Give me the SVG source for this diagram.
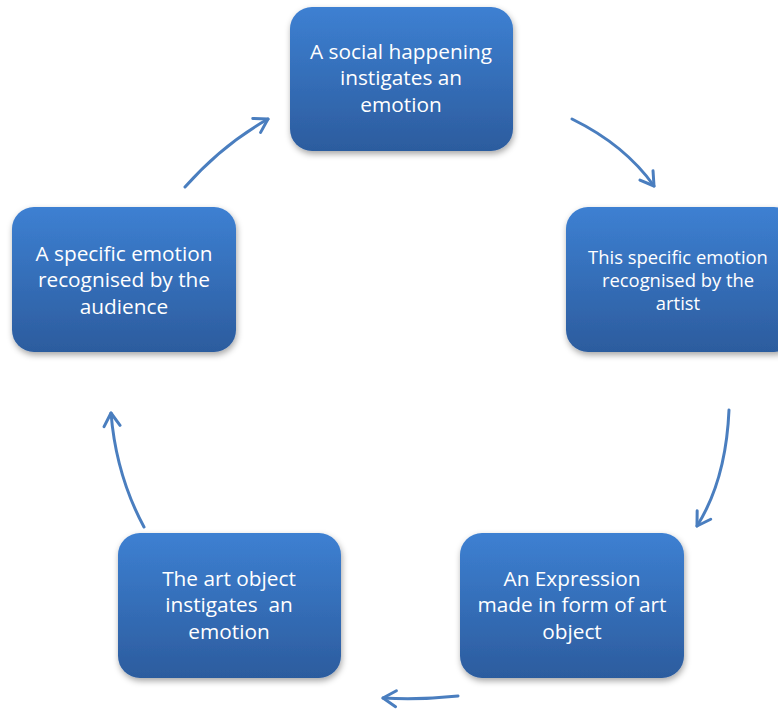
<svg xmlns="http://www.w3.org/2000/svg" width="778" height="711" viewBox="0 0 778 711">
<defs>
<linearGradient id="g" x1="0" y1="0" x2="0" y2="1">
<stop offset="0" stop-color="#3d80d2"/>
<stop offset="1" stop-color="#2c5c9e"/>
</linearGradient>
<filter id="sh" x="-10%" y="-10%" width="125%" height="130%">
<feDropShadow dx="1" dy="3" stdDeviation="3" flood-color="#000" flood-opacity="0.35"/>
</filter>
<marker id="ah" viewBox="0 0 20 20" refX="16" refY="10" markerWidth="20" markerHeight="20" markerUnits="userSpaceOnUse" orient="auto">
<path d="M3,2 L16,10 L3,18" fill="none" stroke="#4a7ebf" stroke-width="3" stroke-linecap="round" stroke-linejoin="round"/>
</marker>
</defs>
<style>
.n{fill:url(#g);filter:url(#sh)}
.t{fill:#fff;font-family:"Open Sans","Noto Sans",sans-serif;font-size:20.8px;text-anchor:middle}
.ts{font-size:18.4px}
.c{fill:none;stroke:#4a7ebf;stroke-width:3;stroke-linecap:round;marker-end:url(#ah)}
</style>
<rect width="778" height="711" fill="#fff"/>
<g id="connectors">
<path class="c" d="M572,119 Q625,145 654,186"/>
<path class="c" d="M729,410 Q726,480 697,526"/>
<path class="c" d="M458,696 Q420,700 383,698"/>
<path class="c" d="M144,527 Q116,475 111,413"/>
<path class="c" d="M185,187 Q222,145 268,119"/>
</g>
<g id="n1">
<rect class="n" x="290" y="7" width="223" height="144" rx="22"/>
<text class="t" x="401" y="59">A social happening</text>
<text class="t" x="401" y="85">instigates an</text>
<text class="t" x="401" y="112">emotion</text>
</g>
<g id="n2">
<rect class="n" x="566" y="207" width="230" height="145" rx="22"/>
<text class="t ts" x="678" y="264">This specific emotion</text>
<text class="t ts" x="678" y="287">recognised by the</text>
<text class="t ts" x="678" y="310">artist</text>
</g>
<g id="n3">
<rect class="n" x="460" y="533" width="224" height="145" rx="22"/>
<text class="t" x="572" y="586">An Expression</text>
<text class="t" x="572" y="612">made in form of art</text>
<text class="t" x="572" y="639">object</text>
</g>
<g id="n4">
<rect class="n" x="118" y="533" width="223" height="145" rx="22"/>
<text class="t" x="229" y="586">The art object</text>
<text class="t" x="229" y="612" xml:space="preserve">instigates  an</text>
<text class="t" x="229" y="639">emotion</text>
</g>
<g id="n5">
<rect class="n" x="12" y="207" width="224" height="145" rx="22"/>
<text class="t" x="124" y="261">A specific emotion</text>
<text class="t" x="124" y="287">recognised by the</text>
<text class="t" x="124" y="314">audience</text>
</g>
</svg>
